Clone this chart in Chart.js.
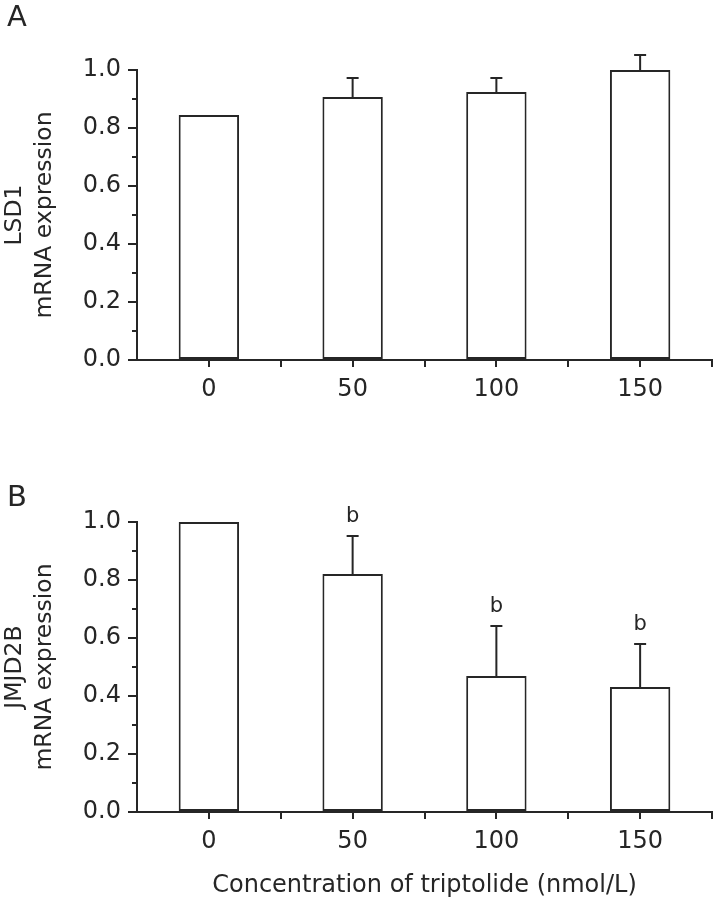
<!DOCTYPE html>
<html><head><meta charset="utf-8">
<script src="https://cdn.jsdelivr.net/npm/chart.js@4.4.0/dist/chart.umd.min.js"></script>
<style>
html,body{margin:0;padding:0;background:#fff;}
#wrap{position:relative;width:714px;height:907px;background:#fff;}
canvas{position:absolute;left:0;}
</style></head><body>
<div id="wrap">
<canvas id="cA" width="714" height="460" style="top:0"></canvas>
<canvas id="cB" width="714" height="447" style="top:460px"></canvas>
</div>
<script>
const categories = ['0', '50', '100', '150'];
const xAxisTitle = 'Concentration of triptolide (nmol/L)';
const yTicks = [0, 0.2, 0.4, 0.6, 0.8, 1.0];
const yMinorTicks = [0.1, 0.3, 0.5, 0.7, 0.9];

const lsd1Mean = [0.845, 0.907, 0.924, 1.0];
const lsd1Err = [0, 0.065, 0.048, 0.052];
const lsd1Sig = ['', '', '', ''];

const jmjMean = [1.0, 0.821, 0.469, 0.431];
const jmjErr = [0, 0.131, 0.172, 0.148];
const jmjSig = ['', 'b', 'b', 'b'];

const INK = '#262626';
Chart.defaults.font.family = "'DejaVu Sans', sans-serif";
Chart.defaults.color = INK;

const decorPlugin = {
  id: 'decor',
  afterDatasetsDraw(chart, args, opts) {
    const ctx = chart.ctx;
    const x = chart.scales.x, y = chart.scales.y;
    const area = chart.chartArea;
    ctx.save();
    ctx.strokeStyle = INK;
    ctx.fillStyle = INK;
    ctx.lineWidth = 2;
    // error bars
    opts.mean.forEach((m, i) => {
      const e = opts.err[i];
      const cx = x.getPixelForValue(i);
      const y0 = y.getPixelForValue(m);
      const y1 = y.getPixelForValue(m + e);
      if (e > 0) {
        ctx.beginPath();
        ctx.moveTo(cx, y0); ctx.lineTo(cx, y1);
        ctx.moveTo(cx - 6, y1); ctx.lineTo(cx + 6, y1);
        ctx.stroke();
      }
      if (opts.sig[i]) {
        ctx.font = "21px 'DejaVu Sans', sans-serif";
        ctx.textAlign = 'center';
        ctx.textBaseline = 'bottom';
        ctx.fillText(opts.sig[i], cx, y1 - 9);
      }
    });
    // minor y ticks
    ctx.lineWidth = 2;
    yMinorTicks.forEach(v => {
      const py = Math.round(y.getPixelForValue(v));
      ctx.beginPath();
      ctx.moveTo(area.left - 5, py); ctx.lineTo(area.left, py);
      ctx.stroke();
    });
    // category boundary ticks on x axis
    const half = (x.getPixelForValue(1) - x.getPixelForValue(0)) / 2;
    categories.forEach((c, i) => {
      const px = Math.round(x.getPixelForValue(i) + half);
      ctx.beginPath();
      ctx.moveTo(px, area.bottom); ctx.lineTo(px, area.bottom + 7);
      ctx.stroke();
    });
    // panel letter
    ctx.font = "29px 'DejaVu Sans', sans-serif";
    ctx.textAlign = 'left';
    ctx.textBaseline = 'top';
    ctx.fillText(opts.letter, opts.letterX, opts.letterY);
    ctx.restore();
  }
};

function makeChart(id, mean, err, sig, yTitle, letter, letterY, padTop, xHeight, showXTitle) {
  return new Chart(document.getElementById(id), {
    type: 'bar',
    data: {
      labels: categories,
      datasets: [{
        data: mean,
        backgroundColor: '#fff',
        borderColor: INK,
        borderWidth: 2,
        borderSkipped: false,
        categoryPercentage: 1,
        barPercentage: 0.42
      }]
    },
    options: {
      responsive: false,
      animation: false,
      layout: { padding: { top: padTop, right: 2, left: 0, bottom: 0 } },
      plugins: {
        legend: { display: false },
        tooltip: { enabled: false },
        decor: { mean: mean, err: err, sig: sig, letter: letter, letterX: 7, letterY: letterY }
      },
      scales: {
        x: {
          offset: true,
          grid: { display: true, drawOnChartArea: false, drawTicks: true, tickLength: 7, offset: false, color: INK, lineWidth: 2 },
          border: { display: true, color: INK, width: 2 },
          ticks: { font: { size: 24 }, padding: 8, color: INK, maxRotation: 0 },
          title: { display: showXTitle, text: xAxisTitle, font: { size: 24, lineHeight: 1.25 }, color: INK, padding: { top: 0, bottom: 6 } },
          afterFit(s) { s.height = xHeight; }
        },
        y: {
          min: 0, max: 1.0,
          afterBuildTicks(s) { s.ticks = yTicks.map(v => ({ value: v })); },
          grid: { display: true, drawOnChartArea: false, drawTicks: true, tickLength: 9, color: INK, lineWidth: 2 },
          border: { display: true, color: INK, width: 2 },
          ticks: { font: { size: 24 }, padding: 7, color: INK, callback: v => Number(v).toFixed(1) },
          title: { display: true, text: yTitle, font: { size: 23.5, lineHeight: 1.28 }, color: INK, padding: { top: 0, bottom: 0 } },
          afterFit(s) { s.width = 137; }
        }
      }
    },
    plugins: [decorPlugin]
  });
}

makeChart('cA', lsd1Mean, lsd1Err, lsd1Sig, ['LSD1', 'mRNA expression'], 'A', 4, 70, 100, false);
makeChart('cB', jmjMean, jmjErr, jmjSig, ['JMJD2B', 'mRNA expression'], 'B', 24, 62, 95, true);
</script>
</body></html>
